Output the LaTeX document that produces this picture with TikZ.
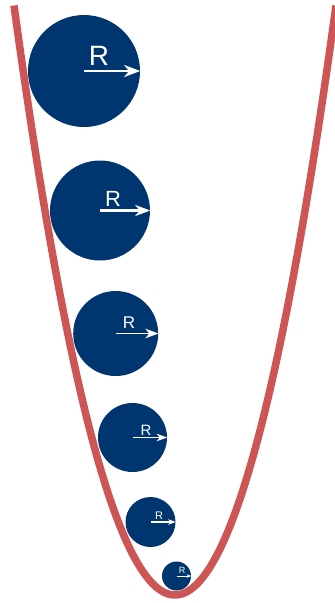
\documentclass[tikz,border=0pt]{standalone}
\usepackage{fontspec}
\setmainfont{Liberation Sans}
\usetikzlibrary{arrows.meta}
\definecolor{navy}{RGB}{0,54,112}
\definecolor{curvered}{RGB}{205,85,85}
\begin{document}
\begin{tikzpicture}[x=1pt,y=-1pt,
  ball/.style={circle, fill=navy, draw=none, inner sep=0pt, minimum size=#1},
  radarrow/.style n args={3}{white, line width=#1, -{Stealth[length=#2, width=#3, inset=0.3*#2]}},
  rlabel/.style={text=white, inner sep=0pt, font=\fontsize{#1}{#1}\selectfont},
  curve/.style={curvered, line width=7.5pt}]
\useasboundingbox (0,0) rectangle (335,603);
% balls
\node[ball=112pt] (c1) at (84,71) {};
\node[ball=100pt] (c2) at (100,210.5) {};
\node[ball=85pt] (c3) at (115.7,333.5) {};
\node[ball=69pt] (c4) at (132.5,437.5) {};
\node[ball=50pt] (c5) at (150.5,522) {};
\node[ball=29pt] (c6) at (176.5,576) {};
% radius arrows
\draw[radarrow={2.5pt}{16pt}{12pt}] (c1.center) -- (c1.east);
\draw[radarrow={2.2pt}{15pt}{11pt}] (c2.center) -- (c2.east);
\draw[radarrow={1.9pt}{13pt}{9.5pt}] (c3.center) -- (c3.east);
\draw[radarrow={1.6pt}{10.5pt}{7.5pt}] (c4.center) -- (c4.east);
\draw[radarrow={1.2pt}{7.5pt}{5.5pt}] (c5.center) -- (c5.east);
\draw[radarrow={0.8pt}{4.5pt}{3.5pt}] (c6.center) -- (c6.east);
% labels
\node[rlabel=28] (r1) at (99,56) {R};
\node[rlabel=22] (r2) at (113,199) {R};
\node[rlabel=17] (r3) at (129,323) {R};
\node[rlabel=15] (r4) at (146,430) {R};
\node[rlabel=11] (r5) at (159,516) {R};
\node[rlabel=9] (r6) at (182,570) {R};
% parabola
\draw[curve] plot[domain=-161:161, samples=120, smooth] ({175+\x},{595-(0.1508*(\x))*(0.1508*(\x))});
\end{tikzpicture}
\end{document}
